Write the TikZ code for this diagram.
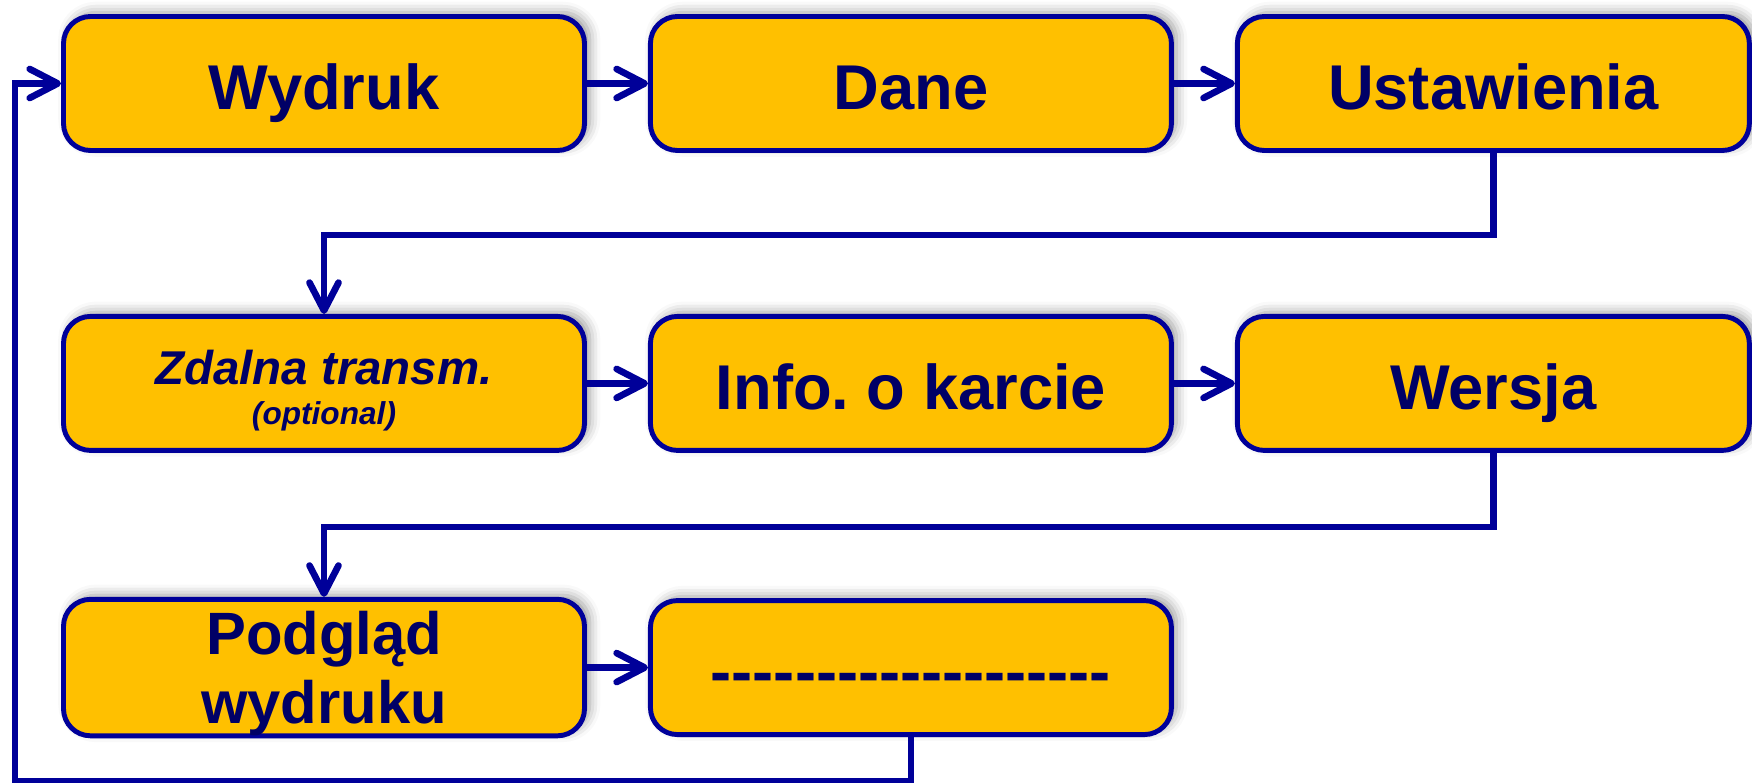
\documentclass[tikz,border=0pt]{standalone}
\usepackage{fontspec}
\setmainfont{Liberation Sans}
\frenchspacing
\usetikzlibrary{positioning,arrows.meta,shadows.blur}

\begin{document}
\begin{tikzpicture}
       \definecolor{gold}{HTML}{FFC000}
       \definecolor{darkblue}{HTML}{000099}
       \definecolor{navy}{HTML}{000066}

       \newcommand{\colsep}[0]{0.61cm}
       \newcommand{\hy}[0]{-\kern0pt}

       \tikzstyle{block}     = [rectangle, rounded corners=0.27cm, minimum width=5.21cm, minimum height=1.34cm,
                                inner sep=0pt, align=center, fill=gold, draw=darkblue, line width=1.4pt, text=navy,
                                font=\fontsize{18}{20}\selectfont\bfseries,
                                blur shadow={shadow xshift=1.5pt, shadow yshift=1.2pt, shadow blur radius=3pt, shadow opacity=40}]
       \tikzstyle{oneline}   = [text height=17.5pt, text depth=2.6pt]
       \tikzstyle{lastcol}   = [minimum width=5.12cm]
       \tikzstyle{connector} = [line width=1.9pt, draw=darkblue, -{Straight Barb[length=2.8mm, width=2.9mm, round]}]

       \useasboundingbox (0,0) rectangle (17.52,-7.83);

       % first row
       \node [block, oneline] (wydruk) at (3.24,-0.835) {Wydruk};
       \node [block, oneline, right = \colsep of wydruk] (dane) {Dane};
       \node [block, oneline, lastcol, right = \colsep of dane] (ustaw) {Ustawienia};

       % second row
       \node [block, below = 1.61cm of wydruk, font=\fontsize{13.5}{13.5}\selectfont\bfseries\itshape] (zdalna) {
         \rule{0pt}{13.8pt}Zdalna transm.\\[-2pt]{\fontsize{9}{10}\selectfont (optional)}
       };
       \node [block, oneline, right = \colsep of zdalna] (info) {Info. o karcie};
       \node [block, oneline, lastcol, right = \colsep of info] (wersja) {Wersja};

       % third row
       \node [block, below = 1.44cm of zdalna, font=\fontsize{17}{19.6}\selectfont\bfseries] (podglad) {\rule{0pt}{15.7pt}Podgląd\\wydruku};
       \node [block, oneline, right = \colsep of podglad] (kreski) {\hy\hy\hy\hy\hy\hy\hy\hy\hy\hy\hy\hy\hy\hy\hy\hy\hy\hy\hy};

       \coordinate (powrot) at (0.15,-7.81);

       \draw [connector] (wydruk)  edge (dane);
       \draw [connector] (dane)    edge (ustaw);
       \draw [connector] (zdalna)  edge (info);
       \draw [connector] (info)    edge (wersja);
       \draw [connector] (podglad) edge (kreski);

       \draw [connector] (ustaw.south)  -- ++(0,-0.82) -| (zdalna.north);
       \draw [connector] (wersja.south) -- ++(0,-0.74) -| (podglad.north);
       \draw [connector] (kreski.south) |- (powrot) |- (wydruk.west);
     \end{tikzpicture}
\end{document}
